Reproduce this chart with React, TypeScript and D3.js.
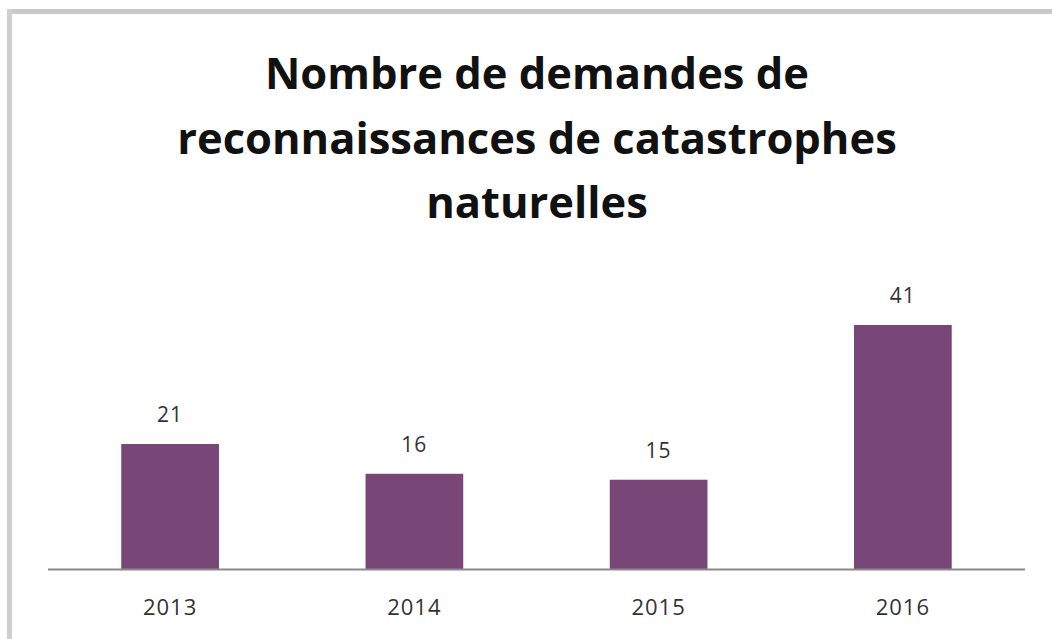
import React from "react";
import * as d3 from "d3";

const categories = ["2013", "2014", "2015", "2016"];
const values = [21, 16, 15, 41];
const titleLines = ["Nombre de demandes de", "reconnaissances de catastrophes", "naturelles"];

const W = 1052;
const H = 639;

export default function App() {
  const x = d3.scaleBand<string>().domain(categories).range([48, 1025]).paddingInner(0.6).paddingOuter(0.3);
  const y = d3.scaleLinear().domain([0, 41]).range([569, 325]);
  const font = "'Open Sans', sans-serif";
  return (
    <svg width={W} height={H} style={{ position: "absolute", left: 0, top: 0, background: "#fff" }}>
      <rect x={0} y={0} width={W} height={H} fill="#fff" />
      <line x1={7} x2={W} y1={11.5} y2={11.5} stroke="#c9c9c9" strokeWidth={5} />
      <line x1={9.5} x2={9.5} y1={9} y2={H} stroke="#cfcfcf" strokeWidth={5} />
      {titleLines.map((t, i) => (
        <text key={i} x={537} y={89 + i * 64.5} textAnchor="middle" fontFamily={font} fontWeight={700} fontSize={43.5} fill="#111">
          {t}
        </text>
      ))}
      {categories.map((c, i) => (
        <g key={c}>
          <rect x={x(c)} y={y(values[i])} width={x.bandwidth()} height={y(0) - y(values[i])} fill="#784677" />
          <text x={(x(c) as number) + x.bandwidth() / 2} y={y(values[i]) - 22} textAnchor="middle" fontFamily={font} fontSize={21} letterSpacing={1} fill="#333">
            {values[i]}
          </text>
          <text x={(x(c) as number) + x.bandwidth() / 2} y={615} textAnchor="middle" fontFamily={font} fontSize={22} letterSpacing={1} fill="#333">
            {c}
          </text>
        </g>
      ))}
      <line x1={48} x2={1025} y1={569.5} y2={569.5} stroke="#8a8a8a" strokeWidth={2} />
    </svg>
  );
}
